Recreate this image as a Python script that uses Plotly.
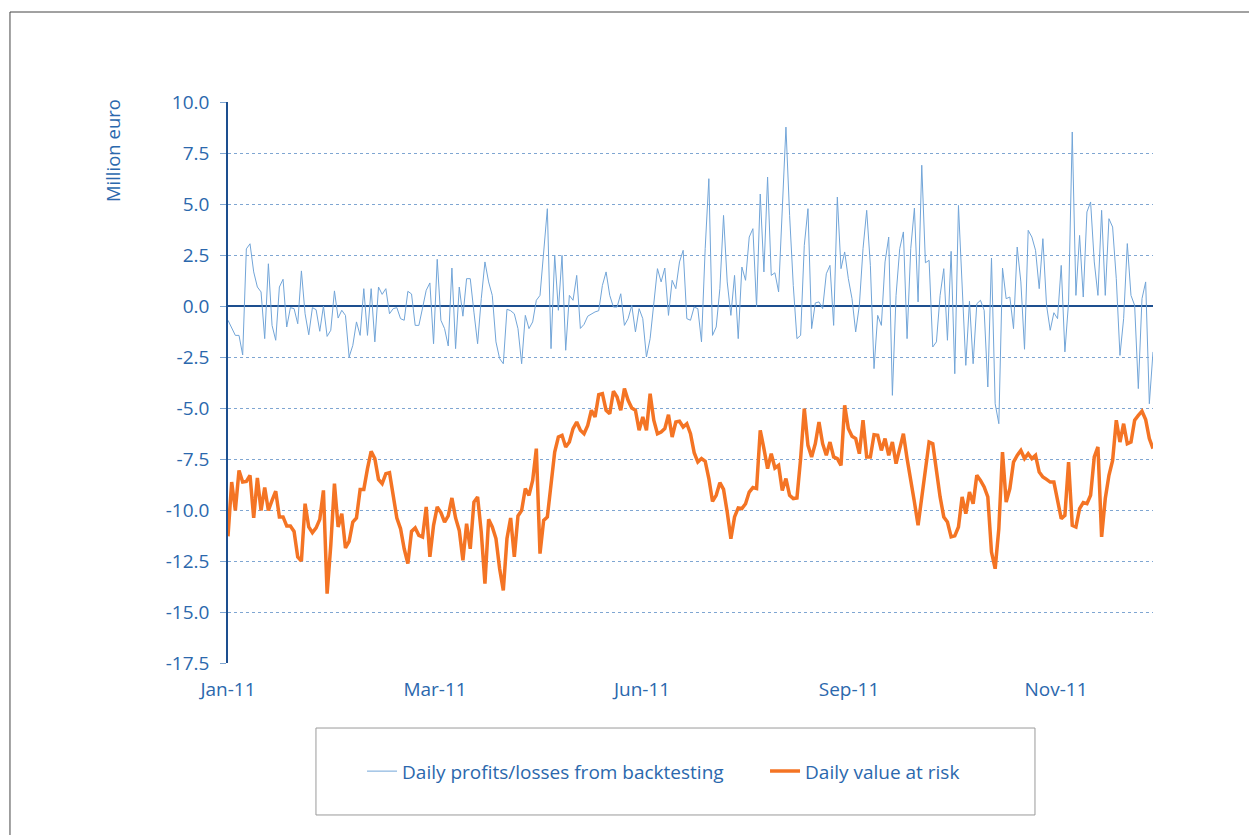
import plotly.graph_objects as go

# ---------------- data ----------------
tick_labels = ["Jan-11", "Mar-11", "Jun-11", "Sep-11", "Nov-11"]
y_tick_values = [-17.5, -15.0, -12.5, -10.0, -7.5, -5.0, -2.5, 0.0, 2.5, 5.0, 7.5, 10.0]

pnl_backtesting = [
    # Jan - Feb
    -0.7, -1.1, -1.44, -1.44, -2.4, 2.8, 3.05, 1.67, 0.93, 0.69, -1.6, 2.07, -0.95, -1.68, 0.93, 1.31,
    -1.03, -0.08, -0.13, -0.87, 1.72, -0.38, -1.41, -0.08, -0.18, -1.24, 0.0, -1.49, -1.19, 0.74, -0.59,
    -0.21, -0.46, -2.5, -1.93, -0.78, -1.44, 0.85, -1.44, 0.85, -1.76, 0.93, 0.57, 0.85, -0.38, -0.13, -0.08,
    -0.62, -0.70, 0.72, 0.59, -0.95, -0.95, -0.1, 0.77, 1.13, -1.85, 2.29, -0.70, -1.11, -1.96, 1.86, -2.09,
    # Mar - May
    0.93, -0.5, 1.34, 1.34, -0.3, -1.85, 0.36, 2.16, 1.18, 0.52, -1.76, -2.58, -2.83, -0.16, -0.23, -0.38,
    -1.11, -2.83, -0.46, -1.11, -0.78, 0.28, 0.52, 2.81, 4.77, -2.09, 2.5, -0.21, 2.48, -2.17, 0.52, 0.28,
    1.5, -1.1, -0.9, -0.5, -0.38, -0.29, -0.23, 1.01, 1.67, 0.52, -0.05, -0.05, 0.6, -0.95, -0.62, 0.03,
    -1.27, -0.13, -0.62, -2.5, -1.6, 0.2, 1.83, 1.18, 1.86, -0.46, 1.26, 0.85, 2.16, 2.73, -0.62, -0.7,
    # Jun - Aug
    -0.05, -0.13, -1.76, 2.81, 6.24, -1.44, -1.03, 0.85, 4.44, 1.18, -0.46, 1.5, -1.6, 1.91, 1.26, 3.38,
    3.79, -0.05, 5.49, 1.67, 6.32, 1.5, 1.63, 0.69, 4.61, 8.77, 4.44, 1.01, -1.6, -1.44, 2.97,
    4.77, -1.11, 0.15, 0.2, -0.13, 1.58, 1.99, -0.95, 5.34, 1.83, 2.65, 1.34, 0.36, -1.27, 0.03, 2.81,
    4.69, 1.99, -3.07, -0.46, -0.95, 2.16, 3.38, -4.38, 0.52, 2.81, 3.63, -1.6, 2.81, 4.8, 0.2,
    # Sep - Dec
    6.9, 2.12, 2.24, -2.01, -1.76, 0.52, 1.83, -1.68, 2.68, -3.32, 4.93, 1.18, -2.91, 0.23, -2.83, 0.11,
    0.28, -0.21, -3.97, 2.35, -4.79, -5.77, 1.86, 0.36, 0.44, -1.11, 2.89, 1.18, -2.12, 3.71, 3.38, 2.73,
    0.85, 3.3, 0.03, -1.19, -0.33, -0.62, 1.99, -2.25, 0.2, 8.53, 0.52, 3.46, 0.44, 4.61, 5.1, 2.16,
    0.52, 4.69, 0.52, 4.28, 3.87, 1.34, -2.42, -0.62, 3.06, 0.52, 0.03, -4.05, 0.36, 1.18, -4.79, -2.25,
]

value_at_risk = [
    # Jan - Feb
    -11.29, -8.63, -10.02, -8.06, -8.63, -8.6, -8.3, -10.39, -8.43, -10.02, -8.9, -10.02, -9.53, -9.08,
    -10.34, -10.34, -10.78, -10.78, -11.05, -12.3, -12.5, -9.69, -10.83, -11.11, -10.88, -10.46, -9.04,
    -14.1, -11.73, -8.71, -10.83,
    -10.18, -11.86, -11.54, -10.59, -10.39, -8.99, -8.99, -7.97, -7.12, -7.48, -8.5, -8.71, -8.22, -8.17,
    -9.28, -10.39, -10.91, -11.9, -12.63, -11.05, -10.88, -11.24, -11.32, -9.85, -12.3, -10.75, -9.85,
    -10.13, -10.59, -10.29, -9.41, -10.39,
    # Mar - May
    -11.0, -12.47, -10.67, -11.9, -9.61, -9.36, -11.08, -13.61, -10.46, -10.83, -11.4, -12.88, -13.94,
    -11.4, -10.39, -12.3, -10.29, -10.02, -8.95, -9.28, -8.55, -6.99, -12.14, -10.51, -10.34, -8.79,
    -7.16, -6.42, -6.34, -6.91, -6.67, -6.01,
    -5.69, -6.09, -6.26, -5.85, -5.11, -5.44, -4.35, -4.3, -5.11, -5.28, -4.18, -4.46, -5.11, -4.05,
    -4.62, -5.0, -5.11, -6.09, -5.44, -6.09, -4.3, -5.6, -6.26, -6.18, -6.01, -5.33, -6.42, -5.69,
    -5.65, -5.93, -5.77, -6.26,
    # Jun - Aug
    -7.19, -7.65, -7.48, -7.61, -8.46, -9.58, -9.28, -8.66, -8.99, -10.1, -11.41, -10.34, -9.9, -9.93,
    -9.69, -9.12, -8.9, -8.95, -6.09, -6.99, -7.97, -7.24, -7.94, -7.81, -9.04, -8.46, -9.28, -9.44,
    -9.41, -7.48, -5.03,
    -6.83, -7.4, -6.75, -5.69, -6.75, -7.32, -6.67, -7.4, -7.48, -7.81, -4.87, -6.01, -6.39, -6.5,
    -7.24, -5.6, -7.4, -7.4, -6.31, -6.34, -7.08, -6.5, -7.32, -6.67, -7.73, -6.99, -6.26, -7.48,
    -8.46, -9.61, -10.75,
    # Sep - Dec
    -9.28, -7.89, -6.67, -6.75, -8.06, -9.36, -10.34, -10.59, -11.32, -11.27, -10.83, -9.36, -10.18,
    -9.12, -9.69, -8.3, -8.55, -8.87, -9.36, -12.06, -12.88, -10.91, -7.16, -9.61, -8.95, -7.65, -7.32,
    -7.08, -7.48, -7.24, -7.48, -7.32,
    -8.14, -8.38, -8.5, -8.63, -8.63, -9.44, -10.42, -10.26, -7.65, -10.75, -10.83, -9.93, -9.64,
    -9.69, -9.28, -7.4, -6.91, -11.32, -9.44, -8.3, -7.57, -5.6, -6.67, -5.77, -6.75, -6.67, -5.6,
    -5.36, -5.16, -5.56, -6.5, -6.99,
]

series_names = ["Daily profits/losses from backtesting", "Daily value at risk"]

# ---------------- figure ----------------
n = len(value_at_risk)
days = list(range(n))
tick_step = (n - 1) * 207 / 925  # labels every ~2.5 months of trading days
tickvals = [i * tick_step for i in range(len(tick_labels))]
y_tick_text = [f"{v:.1f}" for v in y_tick_values]  # plain hyphen minus, as in the original

text_blue = "#2b68ad"
axis_blue = "#1d4f8f"
grid_blue = "#7fa6d2"
font_family = "Open Sans, Noto Sans, sans-serif"

fig = go.Figure()
fig.add_trace(go.Scatter(
    x=days, y=pnl_backtesting, mode="lines", name=series_names[0],
    line=dict(color="#72a5d8", width=1),
))
fig.add_trace(go.Scatter(
    x=days, y=value_at_risk, mode="lines", name=series_names[1],
    line=dict(color="#f47424", width=3.5),
))

fig.update_layout(
    width=1257, height=835,
    margin=dict(l=220, r=112, t=94, b=180),
    paper_bgcolor="white", plot_bgcolor="white",
    font=dict(family=font_family, color=text_blue, size=19),
    showlegend=True,
    legend=dict(
        orientation="h", x=0.1449, y=-0.193, xanchor="left", yanchor="middle",
        font=dict(size=19, color=text_blue), bgcolor="rgba(0,0,0,0)",
        itemwidth=30, entrywidthmode="pixels", entrywidth=358,
    ),
    xaxis=dict(
        range=[0, n - 1], tickmode="array", tickvals=tickvals, ticktext=tick_labels,
        showgrid=False, zeroline=False, showline=False, ticks="",
        tickfont=dict(size=19, color=text_blue), ticklabelstandoff=13,
    ),
    yaxis=dict(
        range=[-17.5, 10], tickmode="array", tickvals=y_tick_values, ticktext=y_tick_text,
        showgrid=True, gridcolor=grid_blue, griddash="dot", gridwidth=1,
        zeroline=True, zerolinecolor=axis_blue, zerolinewidth=1.5,
        showline=True, linecolor=axis_blue, linewidth=1.5,
        ticks="outside", ticklen=6, tickcolor=grid_blue,
        tickfont=dict(size=19, color=text_blue), ticklabelstandoff=7,
    ),
    annotations=[dict(
        text="Million euro", xref="paper", yref="paper", x=-0.124, y=0.913,
        textangle=-90, showarrow=False, xanchor="center", yanchor="middle",
        font=dict(size=18.5, color=text_blue),
    )],
    shapes=[
        # legend box
        dict(type="rect", xref="paper", yref="paper", x0=0.0951, x1=0.8724, y0=-0.2709, y1=-0.1159,
             line=dict(color="#9a9a9a", width=1), fillcolor="rgba(0,0,0,0)"),
        # outer frame (left and top edges)
        dict(type="line", xref="paper", yref="paper", x0=-0.2357, x1=-0.2357, y0=-0.31, y1=1.1604,
             line=dict(color="#444444", width=1)),
        dict(type="line", xref="paper", yref="paper", x0=-0.2357, x1=1.12, y0=1.1604, y1=1.1604,
             line=dict(color="#444444", width=1)),
    ],
)

fig.write_html("out.html")
